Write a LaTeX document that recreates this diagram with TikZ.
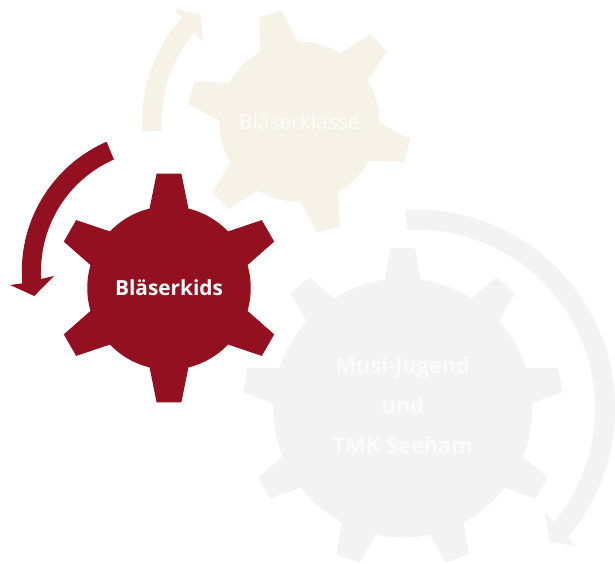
\documentclass[tikz,border=0pt]{standalone}
\usepackage{fontspec}
\setmainfont{Open Sans}
\definecolor{kidsred}{HTML}{92101F}
\definecolor{klassebeige}{HTML}{F6F2E7}
\definecolor{jugendgray}{HTML}{F3F3F3}
\definecolor{klassetext}{HTML}{FDFCF9}
\definecolor{jugendtext}{HTML}{FBFBFB}
\tikzstyle{gear} = [circle,inner sep=0pt,outer sep=0pt,align=center]
\begin{document}
\begin{tikzpicture}[x=1pt,y=1pt]
        \useasboundingbox (0, 0) rectangle (615, 564);
        % gears
        \node[gear,fill=klassebeige,text=klassetext,minimum size=160pt,font=\fontsize{21}{24}\selectfont] (klasse) at (299.3, 442.3) {Bläserklasse};
        \foreach \a in {45,105,...,345}
            \fill[klassebeige] ([shift={(\a-14.6:79)}]klasse.center) -- ([shift={(\a-6:112.3)}]klasse.center) -- ([shift={(\a+6:112.3)}]klasse.center) -- ([shift={(\a+14.6:79)}]klasse.center) -- cycle;
        \node[gear,fill=jugendgray,minimum size=259pt] (jugend) at (402.8, 156) {};
        \foreach \a in {10,50,...,330}
            \fill[jugendgray] ([shift={(\a-8.2:128)}]jugend.center) -- ([shift={(\a-4.4:160.5)}]jugend.center) -- ([shift={(\a+4.4:160.5)}]jugend.center) -- ([shift={(\a+8.2:128)}]jugend.center) -- cycle;
        \node[align=center,text=jugendtext,font=\fontsize{21.8}{40}\bfseries\selectfont] (jugendlabel) at ([yshift=2.5pt]jugend.center) {Musi-Jugend\\und\\TMK Seeham};
        \node[gear,fill=kidsred,text=white,minimum size=163.5pt,font=\fontsize{20.8}{24}\bfseries\selectfont] (kids) at (169, 276) {\raisebox{1pt}{Bläserkids}};
        \foreach \a in {30,90,...,330}
            \fill[kidsred] ([shift={(\a-14:81)}]kids.center) -- ([shift={(\a-6.2:115)}]kids.center) -- ([shift={(\a+6.2:115)}]kids.center) -- ([shift={(\a+14:81)}]kids.center) -- cycle;
        % arrows
        \coordinate (klassec) at (299, 442);
        \coordinate (kidsc) at (163.2, 292.7);
        \coordinate (jugendc) at (416, 155.5);
        \fill[klassebeige] ([shift={(183.5:157)}]klassec) arc[start angle=183.5, end angle=138.5, radius=157] -- (175, 555) -- (200.3, 550) -- (203.3, 522.3) -- ([shift={(139.7:137.5)}]klassec) arc[start angle=139.7, end angle=183.5, radius=137.5] -- cycle;
        \fill[kidsred] ([shift={(113.6:141.4)}]kidsc) arc[start angle=113.6, end angle=184.9, radius=141.4] -- (10, 279) -- (34.3, 268) -- (54, 288) -- ([shift={(183.6:122.2)}]kidsc) arc[start angle=183.6, end angle=113.8, radius=122.2] -- cycle;
        \fill[jugendgray] ([shift={(93:199)}]jugendc) arc[start angle=93, end angle=-40.2, radius=199] -- (576, 18) -- (550, 22.3) -- (545, 50.7) -- ([shift={(-39.4:179)}]jugendc) arc[start angle=-39.4, end angle=93, radius=179] -- cycle;
        \end{tikzpicture}
\end{document}
